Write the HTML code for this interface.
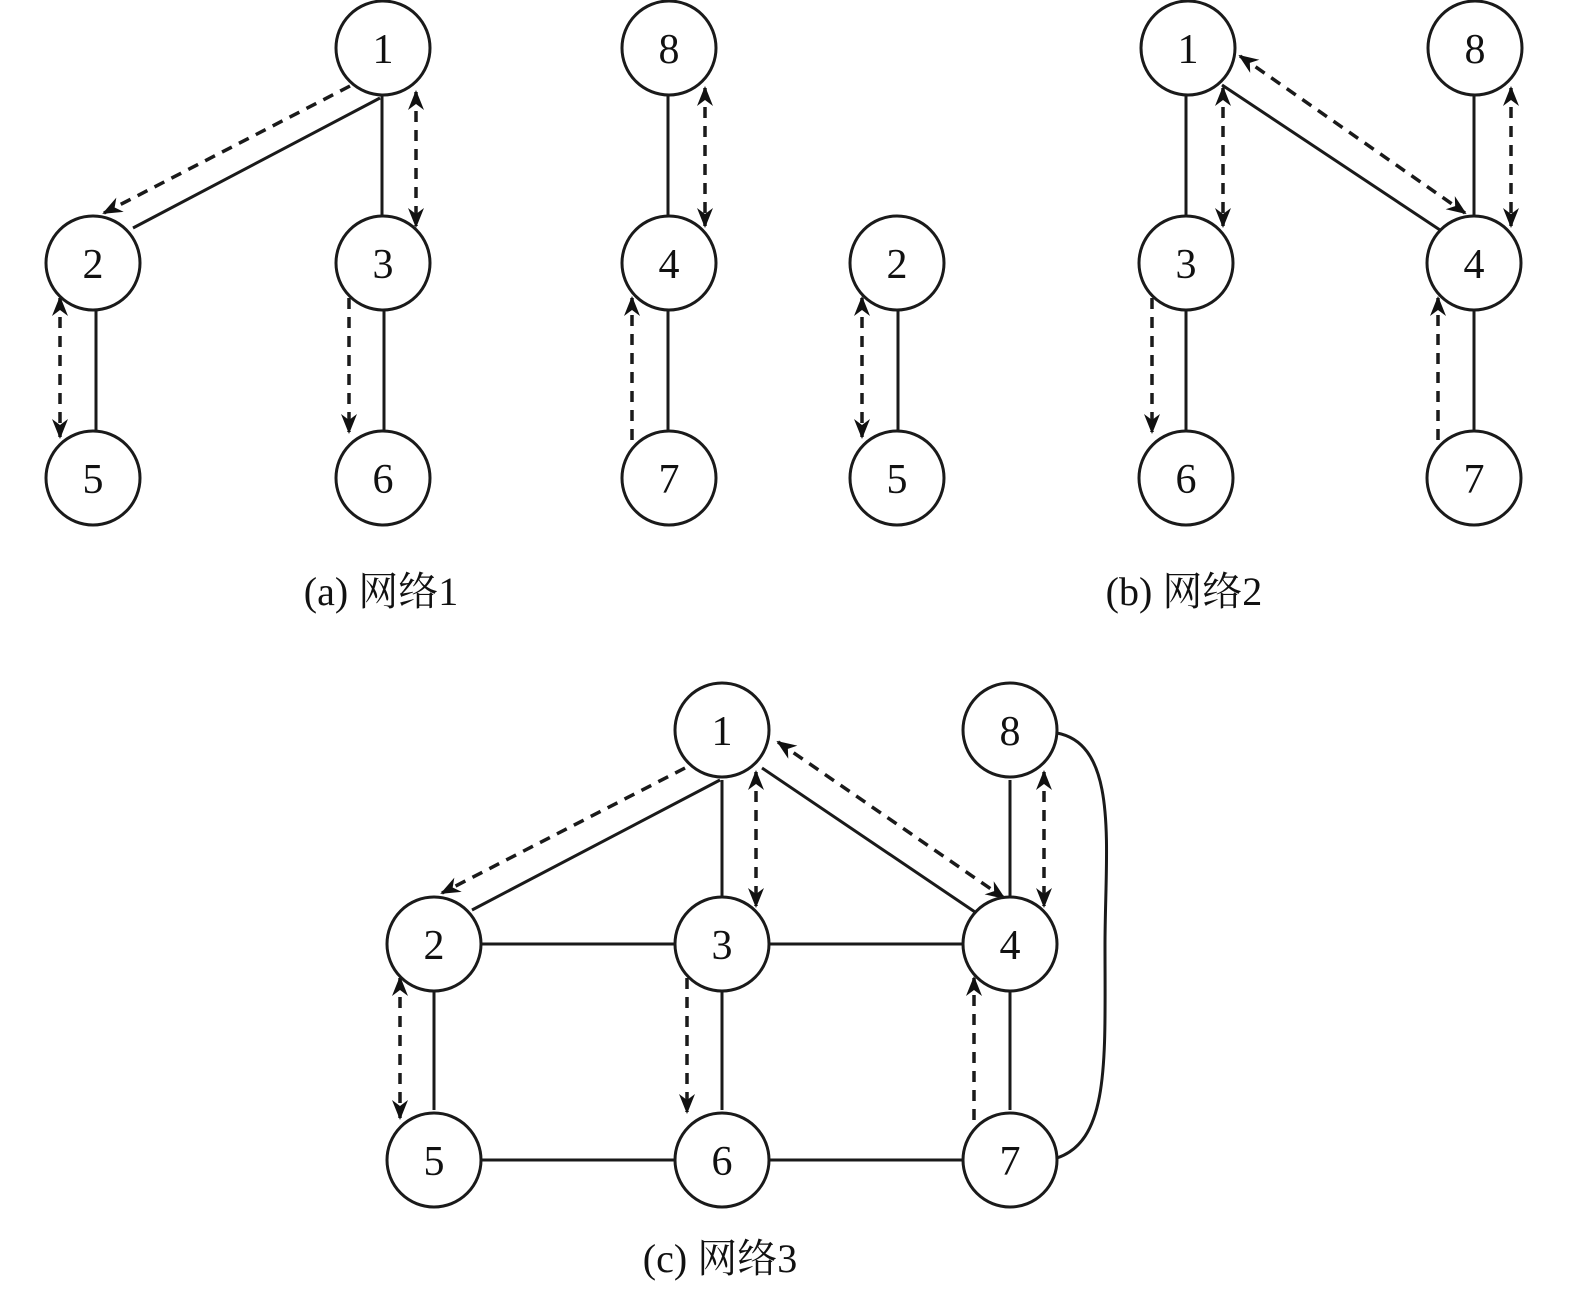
<!DOCTYPE html>
<html><head><meta charset="utf-8"><style>
html,body{margin:0;padding:0;background:#fff;}
svg{display:block;}
text{font-family:"Liberation Serif","Noto Serif CJK SC",serif;fill:#111;}
</style></head><body>
<svg width="1575" height="1293" viewBox="0 0 1575 1293" xmlns="http://www.w3.org/2000/svg">
<defs>
<marker id="ah" viewBox="0 0 20 16" refX="18" refY="8" markerWidth="20" markerHeight="16" markerUnits="userSpaceOnUse" orient="auto-start-reverse">
<path d="M0,0 L20,8 L0,16 L6,8 Z" fill="#111"/>
</marker>
</defs>
<g stroke="#1a1a1a" stroke-width="3" fill="none">
<!-- (a) solid -->
<line x1="380" y1="98" x2="133" y2="228"/>
<line x1="382" y1="96" x2="382" y2="215"/>
<line x1="96" y1="310" x2="96" y2="430"/>
<line x1="384" y1="310" x2="384" y2="430"/>
<line x1="668" y1="96" x2="668" y2="215"/>
<line x1="668" y1="310" x2="668" y2="430"/>
<line x1="898" y1="310" x2="898" y2="430"/>
<!-- (b) solid -->
<line x1="1186" y1="96" x2="1186" y2="215"/>
<line x1="1186" y1="310" x2="1186" y2="430"/>
<line x1="1222" y1="85" x2="1440" y2="230"/>
<line x1="1474" y1="96" x2="1474" y2="215"/>
<line x1="1474" y1="310" x2="1474" y2="430"/>
<!-- (c) solid -->
<line x1="720" y1="780" x2="472" y2="910"/>
<line x1="722" y1="780" x2="722" y2="897"/>
<line x1="762" y1="768" x2="975" y2="912"/>
<line x1="480" y1="944" x2="674" y2="944"/>
<line x1="770" y1="944" x2="962" y2="944"/>
<line x1="1010" y1="780" x2="1010" y2="897"/>
<line x1="434" y1="990" x2="434" y2="1110"/>
<line x1="722" y1="990" x2="722" y2="1110"/>
<line x1="1010" y1="990" x2="1010" y2="1110"/>
<line x1="480" y1="1160" x2="674" y2="1160"/>
<line x1="770" y1="1160" x2="962" y2="1160"/>
<path d="M1057,733 C1120,745 1105,850 1105,945 C1105,1060 1110,1140 1057,1158"/>
</g>
<g stroke="#1a1a1a" stroke-width="3.5" fill="none" stroke-dasharray="11,8">
<!-- (a) dashed -->
<line x1="350" y1="86" x2="104" y2="213" marker-end="url(#ah)"/>
<line x1="416" y1="92" x2="416" y2="226" marker-start="url(#ah)" marker-end="url(#ah)"/>
<line x1="60" y1="298" x2="60" y2="437" marker-start="url(#ah)" marker-end="url(#ah)"/>
<line x1="349" y1="298" x2="349" y2="432" marker-end="url(#ah)"/>
<line x1="705" y1="88" x2="705" y2="226" marker-start="url(#ah)" marker-end="url(#ah)"/>
<line x1="632" y1="440" x2="632" y2="298" marker-end="url(#ah)"/>
<line x1="862" y1="298" x2="862" y2="437" marker-start="url(#ah)" marker-end="url(#ah)"/>
<!-- (b) dashed -->
<line x1="1223" y1="88" x2="1223" y2="226" marker-start="url(#ah)" marker-end="url(#ah)"/>
<line x1="1152" y1="298" x2="1152" y2="432" marker-end="url(#ah)"/>
<line x1="1240" y1="56" x2="1465" y2="213" marker-start="url(#ah)" marker-end="url(#ah)"/>
<line x1="1511" y1="88" x2="1511" y2="226" marker-start="url(#ah)" marker-end="url(#ah)"/>
<line x1="1438" y1="440" x2="1438" y2="298" marker-end="url(#ah)"/>
<!-- (c) dashed -->
<line x1="685" y1="768" x2="442" y2="893" marker-end="url(#ah)"/>
<line x1="756" y1="772" x2="756" y2="906" marker-start="url(#ah)" marker-end="url(#ah)"/>
<line x1="778" y1="742" x2="1004" y2="898" marker-start="url(#ah)" marker-end="url(#ah)"/>
<line x1="1044" y1="772" x2="1044" y2="906" marker-start="url(#ah)" marker-end="url(#ah)"/>
<line x1="400" y1="978" x2="400" y2="1118" marker-start="url(#ah)" marker-end="url(#ah)"/>
<line x1="687" y1="978" x2="687" y2="1112" marker-end="url(#ah)"/>
<line x1="974" y1="1120" x2="974" y2="978" marker-end="url(#ah)"/>
</g>
<g stroke="#1a1a1a" stroke-width="3" fill="#fff">
<circle cx="383" cy="48" r="47"/><circle cx="93" cy="263" r="47"/><circle cx="383" cy="263" r="47"/>
<circle cx="93" cy="478" r="47"/><circle cx="383" cy="478" r="47"/>
<circle cx="669" cy="48" r="47"/><circle cx="669" cy="263" r="47"/><circle cx="669" cy="478" r="47"/>
<circle cx="897" cy="263" r="47"/><circle cx="897" cy="478" r="47"/>
<circle cx="1188" cy="48" r="47"/><circle cx="1475" cy="48" r="47"/>
<circle cx="1186" cy="263" r="47"/><circle cx="1474" cy="263" r="47"/>
<circle cx="1186" cy="478" r="47"/><circle cx="1474" cy="478" r="47"/>
<circle cx="722" cy="730" r="47"/><circle cx="1010" cy="730" r="47"/>
<circle cx="434" cy="944" r="47"/><circle cx="722" cy="944" r="47"/><circle cx="1010" cy="944" r="47"/>
<circle cx="434" cy="1160" r="47"/><circle cx="722" cy="1160" r="47"/><circle cx="1010" cy="1160" r="47"/>
</g>
<g font-size="42" text-anchor="middle">
<text x="383" y="63">1</text><text x="93" y="278">2</text><text x="383" y="278">3</text>
<text x="93" y="493">5</text><text x="383" y="493">6</text>
<text x="669" y="63">8</text><text x="669" y="278">4</text><text x="669" y="493">7</text>
<text x="897" y="278">2</text><text x="897" y="493">5</text>
<text x="1188" y="63">1</text><text x="1475" y="63">8</text>
<text x="1186" y="278">3</text><text x="1474" y="278">4</text>
<text x="1186" y="493">6</text><text x="1474" y="493">7</text>
<text x="722" y="745">1</text><text x="1010" y="745">8</text>
<text x="434" y="959">2</text><text x="722" y="959">3</text><text x="1010" y="959">4</text>
<text x="434" y="1175">5</text><text x="722" y="1175">6</text><text x="1010" y="1175">7</text>
</g>
<g font-size="40" text-anchor="middle">
<text x="381" y="605">(a) 网络1</text>
<text x="1184" y="605">(b) 网络2</text>
<text x="720" y="1272">(c) 网络3</text>
</g>
</svg>
</body></html>
